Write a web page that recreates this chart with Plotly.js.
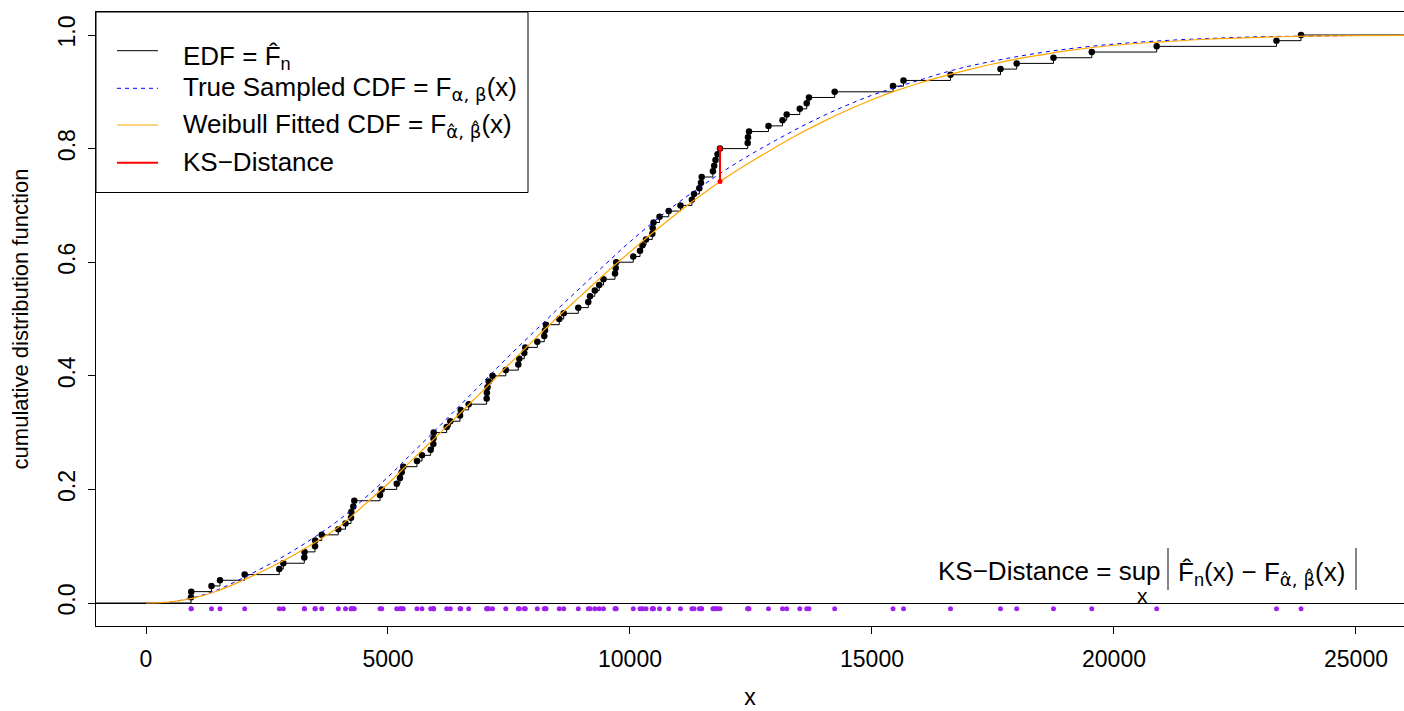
<!DOCTYPE html>
<html>
<head>
<meta charset="utf-8">
<script src="https://cdn.plot.ly/plotly-3.0.1.min.js"></script>
<style>html,body{margin:0;padding:0;background:#fff;}#chart{width:1404px;height:711px;}</style>
</head>
<body>
<div id="chart"></div>
<script>
// Sorted sample values (read from the EDF jumps / rug points)
const sampleX = [930, 936, 1353, 1529, 2039, 2754, 2837, 3271, 3275, 3492,
  3496, 3630, 3973, 4122, 4236, 4242, 4283, 4304, 4835, 4870,
  5180, 5248, 5283, 5316, 5599, 5702, 5882, 5936, 5940, 5944,
  6213, 6287, 6488, 6502, 6667, 7039, 7043, 7056, 7081, 7159,
  7434, 7692, 7713, 7816, 7837, 8085, 8229, 8244, 8264, 8539,
  8630, 8932, 9138, 9174, 9273, 9364, 9452, 9690, 9705, 9715,
  10068, 10207, 10258, 10331, 10461, 10469, 10486, 10610, 10800, 11043,
  11279, 11322, 11432, 11467, 11481, 11713, 11740, 11767, 11808, 11860,
  12432, 12438, 12459, 12862, 13151, 13238, 13508, 13651, 13698, 14229,
  15434, 15651, 16622, 17655, 17990, 18750, 19541, 20882, 23357, 23864];

// CDF curves
const curveX = [0, 500, 1000, 1500, 2000, 2500, 3000, 3500, 4000, 4500, 5000, 5500, 6000, 6500, 7000, 7500, 8000, 8500, 9000, 9500, 10000, 10500, 11000, 11500, 12000, 12500, 13000, 13500, 14000, 14500, 15000, 15500, 16000, 16500, 17000, 17500, 18000, 18500, 19000, 20000, 21000, 22000, 23000, 24000, 25000, 26000];
const trueCDF = [0, 0.002, 0.010, 0.024, 0.044, 0.066, 0.090, 0.117, 0.147, 0.183, 0.222, 0.264, 0.306, 0.349, 0.392, 0.435, 0.476, 0.517, 0.557, 0.597, 0.636, 0.672, 0.705, 0.735, 0.764, 0.790, 0.814, 0.837, 0.858, 0.877, 0.894, 0.908, 0.921, 0.934, 0.945, 0.954, 0.962, 0.969, 0.975, 0.984, 0.990, 0.994, 0.997, 0.998, 0.999, 0.9995];
const fittedCDF = [0, 0.002, 0.009, 0.022, 0.040, 0.060, 0.082, 0.107, 0.135, 0.172, 0.210, 0.252, 0.293, 0.335, 0.377, 0.420, 0.462, 0.503, 0.542, 0.581, 0.618, 0.654, 0.688, 0.720, 0.750, 0.777, 0.802, 0.826, 0.848, 0.868, 0.886, 0.902, 0.916, 0.928, 0.939, 0.949, 0.958, 0.965, 0.972, 0.982, 0.988, 0.993, 0.996, 0.998, 0.999, 0.9995];

// KS distance segment
const ksX = 11860;
const ksEDF = 0.80;
const ksFit = 0.742;

// Axis ticks
const xTicks = [0, 5000, 10000, 15000, 20000, 25000];
const xTickText = ["0", "5000", "10000", "15000", "20000", "25000"];
const yTicks = [0, 0.2, 0.4, 0.6, 0.8, 1.0];
const yTickText = ["0.0", "0.2", "0.4", "0.6", "0.8", "1.0"];

// Empirical distribution from the sample
const n = sampleX.length;
const ecdfY = sampleX.map(v => sampleX.filter(s => s <= v).length / n);

const FONT = 'Liberation Sans, Arial, Helvetica, sans-serif';
const GREEK = '<span style="font-family:DejaVu Sans">';

const traces = [
  { x: [-3000].concat(sampleX, [30000]), y: [0].concat(ecdfY, [1]), type: 'scatter', mode: 'lines',
    line: { color: 'black', width: 1, shape: 'hv' }, name: 'EDF', showlegend: false, hoverinfo: 'skip' },
  { x: sampleX, y: ecdfY, type: 'scatter', mode: 'markers',
    marker: { color: 'black', size: 6.5 }, name: 'EDF points', showlegend: false },
  { x: curveX, y: trueCDF, type: 'scatter', mode: 'lines',
    line: { color: '#0000FF', width: 1, dash: '4px,4px', shape: 'spline' }, name: 'True Sampled CDF', showlegend: false },
  { x: curveX, y: fittedCDF, type: 'scatter', mode: 'lines',
    line: { color: '#FFA500', width: 1.2, shape: 'spline' }, name: 'Weibull Fitted CDF', showlegend: false },
  { x: [ksX, ksX], y: [ksEDF, ksFit], type: 'scatter', mode: 'lines+markers',
    line: { color: '#FF0000', width: 2 }, marker: { color: '#FF0000', size: 5 }, name: 'KS-Distance', showlegend: false },
  { x: sampleX, y: sampleX.map(() => -0.01), type: 'scatter', mode: 'markers',
    marker: { color: '#A020F0', size: 5 }, name: 'sample', showlegend: false }
];

// paper-coordinate helpers (plot area: x 96..1404, y 12..626 in pixels)
const px = p => (p - 96) / 1308;
const py = p => (626 - p) / 614;

const shapes = [
  // legend box
  { type: 'rect', xref: 'paper', yref: 'paper', x0: 0, x1: px(528), y0: py(192.5), y1: 1,
    line: { color: 'black', width: 1 }, fillcolor: 'white', layer: 'above' },
  { type: 'line', xref: 'paper', yref: 'paper', x0: px(117), x1: px(158), y0: py(50.7), y1: py(50.7),
    line: { color: 'black', width: 1 }, layer: 'above' },
  { type: 'line', xref: 'paper', yref: 'paper', x0: px(117), x1: px(158), y0: py(88.3), y1: py(88.3),
    line: { color: '#0000FF', width: 1, dash: '4px,4px' }, layer: 'above' },
  { type: 'line', xref: 'paper', yref: 'paper', x0: px(117), x1: px(158), y0: py(125), y1: py(125),
    line: { color: '#FFA500', width: 1 }, layer: 'above' },
  { type: 'line', xref: 'paper', yref: 'paper', x0: px(117), x1: px(158), y0: py(162.7), y1: py(162.7),
    line: { color: '#FF0000', width: 2 }, layer: 'above' },
  // absolute value bars in the KS formula
  { type: 'line', xref: 'paper', yref: 'paper', x0: px(1168), x1: px(1168), y0: py(590), y1: py(548),
    line: { color: '#444', width: 1.3 } },
  { type: 'line', xref: 'paper', yref: 'paper', x0: px(1356), x1: px(1356), y0: py(590), y1: py(548),
    line: { color: '#444', width: 1.3 } }
];

const ann = (text, x, y, xa, size) => ({ text: text, xref: 'paper', yref: 'paper', x: px(x), y: py(y),
  xanchor: xa || 'left', yanchor: 'middle', showarrow: false, borderpad: 0,
  font: { family: FONT, size: size || 26, color: 'black' } });

const annotations = [
  ann('EDF = F\u0302<sub>n</sub>', 182, 57),
  ann('True Sampled CDF = F<sub>' + GREEK + '\u03B1, \u03B2</span></sub>(x)', 182, 89),
  ann('Weibull Fitted CDF = F<sub>' + GREEK + '\u03B1\u0302, \u03B2\u0302</span></sub>(x)', 182, 126),
  ann('KS\u2212Distance', 182, 161.5),
  ann('KS\u2212Distance = sup', 1162, 571, 'right'),
  ann('x', 1142, 595, 'center', 21),
  ann('F\u0302<sub>n</sub>(x) \u2212 F<sub>' + GREEK + '\u03B1\u0302, \u03B2\u0302</span></sub>(x)', 1177, 573, 'left')
];

const layout = {
  width: 1404, height: 711,
  margin: { l: 96, r: 0, t: 12, b: 85, pad: 0 },
  paper_bgcolor: 'white', plot_bgcolor: 'white',
  font: { family: FONT, size: 23, color: 'black' },
  showlegend: false,
  xaxis: {
    range: [-1033, 25992], tickvals: xTicks, ticktext: xTickText,
    ticks: 'outside', ticklen: 7, tickwidth: 1, tickcolor: 'black', ticklabelstandoff: 5,
    showline: true, mirror: true, linecolor: 'black', linewidth: 1,
    showgrid: false, zeroline: false,
    title: { text: 'x', standoff: 18, font: { size: 23 } }
  },
  yaxis: {
    range: [-0.0405, 1.0405], tickvals: yTicks, ticktext: yTickText, tickangle: -90,
    ticks: 'outside', ticklen: 7, tickwidth: 1, tickcolor: 'black', ticklabelstandoff: 4,
    showline: true, mirror: true, linecolor: 'black', linewidth: 1,
    showgrid: false, zeroline: true, zerolinecolor: 'black', zerolinewidth: 1,
    title: { text: 'cumulative distribution function', standoff: 19, font: { size: 22 } }
  },
  shapes: shapes,
  annotations: annotations
};

Plotly.newPlot('chart', traces, layout, { staticPlot: true, displayModeBar: false });
</script>
</body>
</html>
